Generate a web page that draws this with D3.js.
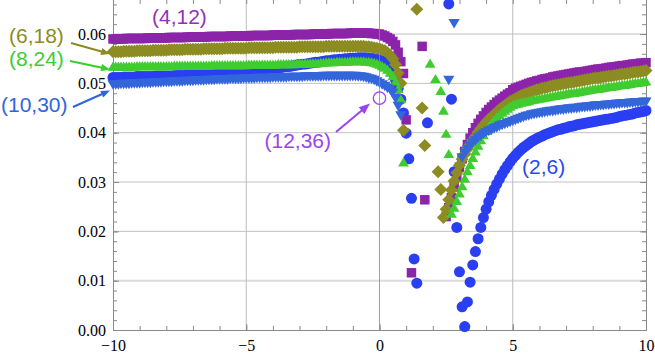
<!DOCTYPE html>
<html lang="en">
<head>
<meta charset="UTF-8">
<title>Curves (2,6) to (12,36)</title>
<script src="https://d3js.org/d3.v7.min.js"></script>
<style>
    body { margin: 0; padding: 0; background: #fff; }
    svg { display: block; }
    .note { font-family: "Liberation Sans", Arial, sans-serif; font-size: 21px; }
</style>
</head>
<body>
<script>
// sample positions (step 0.1)
var xs = [
    -10,-9.9,-9.8,-9.7,-9.6,-9.5,-9.4,-9.3,-9.2,-9.1,
    -9,-8.9,-8.8,-8.7,-8.6,-8.5,-8.4,-8.3,-8.2,-8.1,
    -8,-7.9,-7.8,-7.7,-7.6,-7.5,-7.4,-7.3,-7.2,-7.1,
    -7,-6.9,-6.8,-6.7,-6.6,-6.5,-6.4,-6.3,-6.2,-6.1,
    -6,-5.9,-5.8,-5.7,-5.6,-5.5,-5.4,-5.3,-5.2,-5.1,
    -5,-4.9,-4.8,-4.7,-4.6,-4.5,-4.4,-4.3,-4.2,-4.1,
    -4,-3.9,-3.8,-3.7,-3.6,-3.5,-3.4,-3.3,-3.2,-3.1,
    -3,-2.9,-2.8,-2.7,-2.6,-2.5,-2.4,-2.3,-2.2,-2.1,
    -2,-1.9,-1.8,-1.7,-1.6,-1.5,-1.4,-1.3,-1.2,-1.1,
    -1,-0.9,-0.8,-0.7,-0.6,-0.5,-0.4,-0.3,-0.2,-0.1,
    0,0.1,0.2,0.3,0.4,0.5,0.6,0.7,0.8,0.9,
    1,1.1,1.2,1.3,1.4,1.5,1.6,1.7,1.8,1.9,
    2,2.1,2.2,2.3,2.4,2.5,2.6,2.7,2.8,2.9,
    3,3.1,3.2,3.3,3.4,3.5,3.6,3.7,3.8,3.9,
    4,4.1,4.2,4.3,4.4,4.5,4.6,4.7,4.8,4.9,
    5,5.1,5.2,5.3,5.4,5.5,5.6,5.7,5.8,5.9,
    6,6.1,6.2,6.3,6.4,6.5,6.6,6.7,6.8,6.9,
    7,7.1,7.2,7.3,7.4,7.5,7.6,7.7,7.8,7.9,
    8,8.1,8.2,8.3,8.4,8.5,8.6,8.7,8.8,8.9,
    9,9.1,9.2,9.3,9.4,9.5,9.6,9.7,9.8,9.9,
    10
];

// (2,6) - circles
var s2 = [
    .0512,.0512,.0512,.0512,.0513,.0513,.0513,.0513,.0513,.0514,
    .0514,.0514,.0514,.0514,.0514,.0514,.0515,.0515,.0515,.0515,
    .0515,.0515,.0515,.0516,.0516,.0516,.0516,.0516,.0517,.0517,
    .0517,.0517,.0518,.0518,.0518,.0518,.0519,.0519,.0519,.0520,
    .0520,.0520,.0521,.0521,.0521,.0522,.0522,.0523,.0523,.0523,
    .0524,.0524,.0525,.0525,.0526,.0527,.0527,.0528,.0528,.0529,
    .0530,.0531,.0531,.0532,.0533,.0534,.0534,.0535,.0536,.0537,
    .0538,.0539,.0539,.0540,.0541,.0542,.0543,.0543,.0544,.0545,
    .0546,.0546,.0547,.0548,.0548,.0549,.0549,.0550,.0550,.0551,
    .0551,.0551,.0552,.0552,.0552,.0552,.0551,.0551,.0550,.0549,
    .0548,.0546,.0543,.0539,.0532,.0522,.0508,.0490,.0468,.0440,
    .0399,.0347,.0267,.0144,.0095,null,null,null,.0420,null,
    null,null,null,null,null,null,.0661,.0468,.0321,.0208,
    .0118,.0047,.0007,.0057,.0097,.0132,.0159,.0185,.0208,.0228,
    .0245,.0260,.0273,.0285,.0296,.0306,.0316,.0325,.0333,.0341,
    .0348,.0354,.0360,.0365,.0370,.0374,.0378,.0382,.0385,.0388,
    .0391,.0393,.0396,.0398,.0400,.0402,.0404,.0406,.0407,.0409,
    .0410,.0412,.0413,.0414,.0416,.0417,.0418,.0419,.0420,.0421,
    .0422,.0423,.0424,.0425,.0426,.0427,.0428,.0429,.0430,.0431,
    .0433,.0434,.0435,.0436,.0437,.0438,.0440,.0441,.0442,.0443,
    .0445
];

// (4,12) - squares
var s4 = [
    .0590,.0590,.0590,.0590,.0590,.0591,.0591,.0591,.0591,.0591,
    .0591,.0591,.0591,.0592,.0592,.0592,.0592,.0592,.0592,.0592,
    .0592,.0593,.0593,.0593,.0593,.0593,.0593,.0593,.0594,.0594,
    .0594,.0594,.0594,.0594,.0594,.0594,.0595,.0595,.0595,.0595,
    .0595,.0595,.0595,.0595,.0596,.0596,.0596,.0596,.0596,.0596,
    .0596,.0596,.0597,.0597,.0597,.0597,.0597,.0597,.0597,.0597,
    .0598,.0598,.0598,.0598,.0598,.0598,.0598,.0598,.0599,.0599,
    .0599,.0599,.0599,.0599,.0599,.0600,.0600,.0600,.0600,.0600,
    .0600,.0600,.0601,.0601,.0601,.0601,.0601,.0601,.0601,.0602,
    .0602,.0602,.0602,.0602,.0602,.0602,.0602,.0601,.0601,.0600,
    .0600,.0598,.0596,.0593,.0590,.0585,.0578,.0563,.0544,.0520,
    .0426,null,.0116,null,null,null,.0575,.0264,null,null,
    null,null,null,null,null,.0230,.0248,.0268,.0290,.0310,
    .0330,.0347,.0362,.0376,.0389,.0400,.0410,.0419,.0427,.0434,
    .0441,.0447,.0452,.0457,.0462,.0466,.0470,.0474,.0478,.0481,
    .0487,.0490,.0492,.0494,.0496,.0498,.0500,.0502,.0503,.0505,
    .0506,.0508,.0509,.0510,.0511,.0513,.0514,.0515,.0516,.0517,
    .0518,.0519,.0520,.0521,.0522,.0523,.0523,.0524,.0525,.0526,
    .0527,.0528,.0529,.0529,.0530,.0531,.0532,.0533,.0533,.0534,
    .0535,.0536,.0536,.0537,.0538,.0539,.0539,.0540,.0541,.0541,
    .0542
];

// (6,18) - diamonds
var s6 = [
    .0564,.0564,.0564,.0564,.0565,.0565,.0565,.0565,.0565,.0566,
    .0566,.0566,.0566,.0566,.0566,.0567,.0567,.0567,.0567,.0567,
    .0567,.0568,.0568,.0568,.0568,.0568,.0568,.0569,.0569,.0569,
    .0569,.0569,.0569,.0569,.0570,.0570,.0570,.0570,.0570,.0570,
    .0570,.0570,.0571,.0571,.0571,.0571,.0571,.0571,.0571,.0571,
    .0571,.0572,.0572,.0572,.0572,.0572,.0572,.0572,.0572,.0572,
    .0572,.0573,.0573,.0573,.0573,.0573,.0573,.0573,.0573,.0573,
    .0574,.0574,.0574,.0574,.0574,.0574,.0574,.0574,.0574,.0574,
    .0575,.0575,.0575,.0575,.0575,.0575,.0575,.0575,.0575,.0575,
    .0575,.0575,.0575,.0575,.0575,.0574,.0574,.0573,.0572,.0571,
    .0570,.0568,.0566,.0562,.0557,.0550,.0538,.0521,.0500,.0405,
    null,null,null,null,.0650,null,.0450,.0374,null,null,
    null,null,.0321,.0285,.0228,.0245,.0264,.0284,.0302,.0319,
    .0334,.0346,.0357,.0367,.0376,.0385,.0393,.0401,.0408,.0415,
    .0421,.0427,.0432,.0437,.0442,.0447,.0451,.0455,.0459,.0463,
    .0466,.0469,.0472,.0475,.0477,.0479,.0481,.0483,.0485,.0487,
    .0488,.0490,.0491,.0492,.0494,.0495,.0496,.0497,.0498,.0499,
    .0500,.0501,.0502,.0503,.0504,.0505,.0506,.0507,.0508,.0509,
    .0510,.0511,.0511,.0512,.0513,.0514,.0515,.0515,.0516,.0517,
    .0518,.0519,.0519,.0520,.0521,.0522,.0523,.0523,.0524,.0525,
    .0526
];

// (8,24) - up triangles
var s8 = [
    .0532,.0532,.0532,.0532,.0532,.0532,.0532,.0532,.0532,.0533,
    .0533,.0533,.0533,.0533,.0533,.0533,.0533,.0533,.0533,.0533,
    .0533,.0533,.0533,.0534,.0534,.0534,.0534,.0534,.0534,.0534,
    .0534,.0534,.0534,.0534,.0534,.0534,.0534,.0535,.0535,.0535,
    .0535,.0535,.0535,.0535,.0535,.0535,.0535,.0535,.0535,.0535,
    .0535,.0536,.0536,.0536,.0536,.0536,.0536,.0536,.0536,.0536,
    .0536,.0536,.0537,.0537,.0537,.0537,.0537,.0537,.0537,.0538,
    .0538,.0538,.0538,.0538,.0539,.0539,.0539,.0539,.0540,.0540,
    .0541,.0541,.0541,.0541,.0542,.0542,.0542,.0542,.0542,.0543,
    .0543,.0543,.0543,.0543,.0543,.0542,.0542,.0541,.0540,.0538,
    .0536,.0533,.0530,.0526,.0520,.0513,.0502,.0487,.0466,.0338,
    null,null,null,null,null,null,null,null,null,.0538,
    null,.0507,null,.0483,.0443,.0396,.0355,.0234,.0246,.0260,
    .0275,.0290,.0305,.0320,.0333,.0347,.0360,.0372,.0383,.0393,
    .0402,.0410,.0417,.0423,.0429,.0434,.0439,.0443,.0447,.0451,
    .0454,.0456,.0457,.0459,.0460,.0461,.0462,.0464,.0465,.0466,
    .0467,.0468,.0469,.0470,.0471,.0472,.0473,.0474,.0475,.0476,
    .0477,.0478,.0479,.0479,.0480,.0481,.0482,.0483,.0484,.0485,
    .0486,.0487,.0487,.0488,.0489,.0490,.0491,.0491,.0492,.0493,
    .0494,.0495,.0495,.0496,.0497,.0498,.0499,.0499,.0500,.0501,
    .0502
];

// (10,30) - down triangles
var s10 = [
    .0500,.0500,.0500,.0501,.0501,.0501,.0501,.0502,.0502,.0502,
    .0502,.0503,.0503,.0503,.0503,.0504,.0504,.0504,.0504,.0505,
    .0505,.0505,.0505,.0506,.0506,.0506,.0506,.0507,.0507,.0507,
    .0507,.0508,.0508,.0508,.0508,.0509,.0509,.0509,.0509,.0510,
    .0510,.0510,.0510,.0510,.0511,.0511,.0511,.0511,.0511,.0512,
    .0512,.0512,.0512,.0512,.0513,.0513,.0513,.0513,.0513,.0513,
    .0514,.0514,.0514,.0514,.0514,.0514,.0515,.0515,.0515,.0515,
    .0515,.0515,.0516,.0516,.0516,.0516,.0516,.0516,.0516,.0517,
    .0517,.0517,.0517,.0517,.0517,.0517,.0517,.0517,.0517,.0517,
    .0517,.0517,.0516,.0516,.0515,.0514,.0512,.0511,.0509,.0506,
    .0503,.0500,.0497,.0493,.0490,.0483,.0472,.0456,.0437,null,
    null,null,null,null,null,null,null,null,null,null,
    null,null,null,null,null,null,.0509,null,.0624,null,
    null,.0352,.0361,.0369,.0376,.0382,.0387,.0392,.0396,.0400,
    .0403,.0406,.0408,.0411,.0413,.0416,.0418,.0420,.0422,.0424,
    .0426,.0428,.0430,.0432,.0434,.0436,.0437,.0439,.0440,.0441,
    .0442,.0443,.0444,.0445,.0446,.0446,.0447,.0448,.0449,.0449,
    .0450,.0451,.0451,.0452,.0452,.0453,.0454,.0454,.0455,.0455,
    .0456,.0457,.0457,.0458,.0458,.0459,.0459,.0460,.0460,.0461,
    .0461,.0462,.0462,.0462,.0463,.0463,.0464,.0464,.0464,.0465,
    .0465
];

// (12,36) - single open marker
var s12x = [0];
var s12y = [0.047];

var seriesNames = ['(2,6)', '(4,12)', '(6,18)', '(8,24)', '(10,30)'];
var seriesValues = [s2, s4, s6, s8, s10];
var seriesColors = ['#2a3ef2', '#8c24aa', '#8c8c22', '#40cc30', '#3366da'];
var seriesShapes = ['circle', 'square', 'diamond', 'up', 'down'];

var xTicks = [-10, -5, 0, 5, 10];
var xTickLabels = ['\u221210', '\u22125', '0', '5', '10'];
var yTicks = [0, 0.01, 0.02, 0.03, 0.04, 0.05, 0.06];
var yTickLabels = ['0.00', '0.01', '0.02', '0.03', '0.04', '0.05', '0.06'];

var width = 655, height = 357;
var svg = d3.select('body').append('svg')
    .attr('width', width)
    .attr('height', height);

var x = d3.scaleLinear().domain([-10, 10]).range([113, 646]);
var y = d3.scaleLinear().domain([0, 0.0669]).range([330, 0]);

// grid lines
svg.append('g').selectAll('line')
    .data(yTicks.slice(1)).enter().append('line')
    .attr('x1', x(-10)).attr('x2', x(10))
    .attr('y1', function(d) { return y(d); })
    .attr('y2', function(d) { return y(d); })
    .attr('stroke', function(d) { return d === 0.01 ? '#dcdcdc' : '#c2c2c2'; })
    .attr('stroke-width', function(d) { return d === 0.01 ? 2 : 1; });

svg.append('g').selectAll('line')
    .data([-5, 5]).enter().append('line')
    .attr('x1', function(d) { return x(d); })
    .attr('x2', function(d) { return x(d); })
    .attr('y1', 0).attr('y2', y(0))
    .attr('stroke', '#bdbdbd');

// frame and ticks
function styleAxis(g) {
    g.selectAll('.domain').attr('stroke', '#8a8a8a');
    g.selectAll('.tick line').attr('stroke', '#8a8a8a');
    g.attr('font-family', '"Liberation Serif", "DejaVu Serif", serif')
     .attr('font-size', 16);
    g.selectAll('text').attr('fill', '#000');
}

var yMinor = y.ticks(35);
var xMinor = x.ticks(20);

svg.append('g').attr('transform', 'translate(' + x(-10) + ',0)')
    .call(d3.axisLeft(y).tickValues(yMinor).tickSize(-4).tickSizeOuter(0).tickFormat(''))
    .call(styleAxis);
svg.append('g').attr('transform', 'translate(' + x(-10) + ',0)')
    .call(d3.axisLeft(y).tickValues(yTicks).tickSize(-6).tickSizeOuter(0).tickPadding(7)
        .tickFormat(function(d, i) { return yTickLabels[i]; }))
    .call(styleAxis);

svg.append('g').attr('transform', 'translate(' + x(10) + ',0)')
    .call(d3.axisRight(y).tickValues(yMinor).tickSize(-4).tickSizeOuter(0).tickFormat(''))
    .call(styleAxis);
svg.append('g').attr('transform', 'translate(' + x(10) + ',0)')
    .call(d3.axisRight(y).tickValues(yTicks).tickSize(-6).tickSizeOuter(0).tickFormat(''))
    .call(styleAxis);

svg.append('g').attr('transform', 'translate(0,' + y(0) + ')')
    .call(d3.axisBottom(x).tickValues(xMinor).tickSize(-4).tickSizeOuter(0).tickFormat(''))
    .call(styleAxis);
svg.append('g').attr('transform', 'translate(0,' + y(0) + ')')
    .call(d3.axisBottom(x).tickValues(xTicks).tickSize(-6).tickSizeOuter(0).tickPadding(10)
        .tickFormat(function(d, i) { return xTickLabels[i]; }))
    .call(styleAxis);

var topAxis = svg.append('g').attr('transform', 'translate(0,0)')
    .call(d3.axisTop(x).tickValues(xMinor).tickSize(-4).tickSizeOuter(0).tickFormat(''))
    .call(styleAxis);
topAxis.select('.domain').remove();

// marker shapes
var shapes = {
    circle: d3.symbol(d3.symbolCircle, 95)(),
    square: d3.symbol(d3.symbolSquare, 90)(),
    diamond: 'M0,-6.5L6.5,0L0,6.5L-6.5,0Z',
    up: 'M0,-6L5.4,3.2L-5.4,3.2Z',
    down: 'M0,6.4L5.6,-3.2L-5.6,-3.2Z'
};

seriesNames.forEach(function(name, i) {
    var vals = seriesValues[i];
    var pts = xs.map(function(xv, j) { return [xv, vals[j]]; })
        .filter(function(p) { return p[1] !== null; });
    svg.append('g').attr('class', 'series')
        .selectAll('path').data(pts).enter().append('path')
        .attr('transform', function(p) { return 'translate(' + x(p[0]) + ',' + y(p[1]) + ')'; })
        .attr('d', shapes[seriesShapes[i]])
        .attr('fill', seriesColors[i]);
});

// x = 0 axis on top
svg.append('line')
    .attr('x1', x(0)).attr('x2', x(0))
    .attr('y1', 0).attr('y2', y(0))
    .attr('stroke', '#8a8a8a')
    .attr('stroke-opacity', 0.8);

// open marker for (12,36)
svg.append('circle')
    .attr('cx', x(s12x[0])).attr('cy', y(s12y[0]))
    .attr('r', 6.2)
    .attr('fill', 'none')
    .attr('stroke', '#9a44f0')
    .attr('stroke-width', 1.3);

// labels and arrows
var notes = [
    { text: '(4,12)', x: 152, y: 24, color: '#9430b8', anchor: 'start' },
    { text: '(6,18)', x: 9, y: 43, color: '#8c8c22', anchor: 'start' },
    { text: '(8,24)', x: 9, y: 66, color: '#3ecc2e', anchor: 'start' },
    { text: '(10,30)', x: 1, y: 112, color: '#3064dc', anchor: 'start' },
    { text: '(2,6)', x: 522, y: 174, color: '#2a48f0', anchor: 'start' },
    { text: '(12,36)', x: 331, y: 148, color: '#9a44f0', anchor: 'end' }
];

svg.append('g').selectAll('text')
    .data(notes).enter().append('text')
    .attr('class', 'note')
    .attr('x', function(d) { return d.x; })
    .attr('y', function(d) { return d.y; })
    .attr('text-anchor', function(d) { return d.anchor; })
    .attr('fill', function(d) { return d.color; })
    .text(function(d) { return d.text; });

var arrows = [
    { x1: 71, y1: 43, x2: 110, y2: 54, color: '#8c8c22', head: 9 },
    { x1: 70, y1: 61, x2: 110, y2: 69.5, color: '#3ecc2e', head: 9 },
    { x1: 73, y1: 107, x2: 110, y2: 90.5, color: '#3064dc', head: 9 },
    { x1: 336, y1: 132, x2: 370, y2: 103.5, color: '#9a44f0', head: 11 }
];

arrows.forEach(function(a) {
    var dx = a.x2 - a.x1, dy = a.y2 - a.y1;
    var len = Math.sqrt(dx * dx + dy * dy);
    var ux = dx / len, uy = dy / len;
    var bx = a.x2 - ux * a.head, by = a.y2 - uy * a.head;
    var hw = a.head * 0.4;
    svg.append('line')
        .attr('x1', a.x1).attr('y1', a.y1)
        .attr('x2', bx + ux).attr('y2', by + uy)
        .attr('stroke', a.color)
        .attr('stroke-width', 2);
    svg.append('path')
        .attr('d', 'M' + a.x2 + ',' + a.y2 +
            'L' + (bx - uy * hw) + ',' + (by + ux * hw) +
            'L' + (bx + uy * hw) + ',' + (by - ux * hw) + 'Z')
        .attr('fill', a.color);
});
</script>
</body>
</html>
